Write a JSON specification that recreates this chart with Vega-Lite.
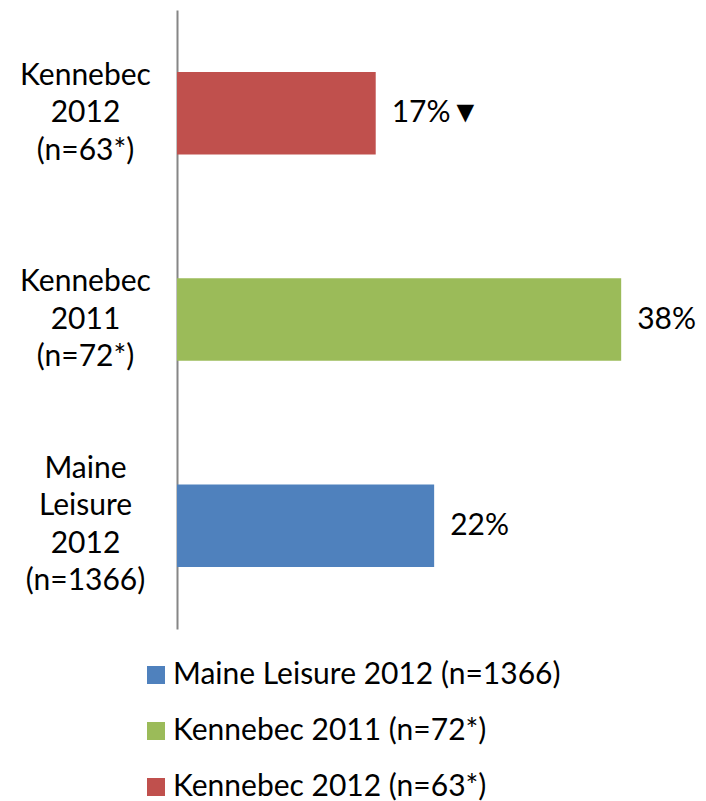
{
  "$schema": "https://vega.github.io/schema/vega-lite/v6.json",
  "width": 526,
  "height": 619,
  "autosize": {"type": "none"},
  "padding": {"left": 177, "top": 10, "right": 3, "bottom": 172},
  "background": "white",
  "config": {"view": {"stroke": null}, "font": "Lato"},
  "data": {"values": [
    {"cat": "Kennebec|2012|(n=63*)", "series": "Kennebec 2012 (n=63*)", "value": 0.17, "lbl": "17%▼"},
    {"cat": "Kennebec|2011|(n=72*)", "series": "Kennebec 2011 (n=72*)", "value": 0.38, "lbl": "38%"},
    {"cat": "Maine|Leisure|2012|(n=1366)", "series": "Maine Leisure 2012 (n=1366)", "value": 0.22, "lbl": "22%"}
  ]},
  "encoding": {
    "y": {"field": "cat", "type": "nominal", "sort": null,
      "scale": {"paddingInner": 0.6, "paddingOuter": 0.3},
      "axis": {"title": null, "ticks": false, "domainColor": "#868686", "domainWidth": 2,
        "labelExpr": "split(datum.label, '|')", "labelAlign": "center", "labelBaseline": "middle",
        "labelPadding": 92, "labelFontSize": 30, "labelColor": "black", "labelLineHeight": 37.5, "labelFont": "Lato",
        "labelOffset": {"condition": {"test": "indexof(datum.value, 'Maine') >= 0", "value": -57}, "value": -37.5}}},
    "x": {"field": "value", "type": "quantitative", "scale": {"domain": [0, 0.45]}, "axis": null}
  },
  "layer": [
    {"mark": {"type": "bar"},
     "encoding": {"color": {"field": "series", "type": "nominal",
       "scale": {"domain": ["Maine Leisure 2012 (n=1366)", "Kennebec 2011 (n=72*)", "Kennebec 2012 (n=63*)"],
                 "range": ["#4f81bd", "#9bbb59", "#c0504d"]},
       "legend": {"orient": "none", "legendX": -36, "legendY": 650, "padding": 0, "title": null, "symbolType": "square",
         "symbolSize": 324, "symbolStrokeWidth": 0, "labelFontSize": 30, "labelColor": "black", "labelOffset": 2,
         "rowPadding": 26, "labelLimit": 500, "labelFont": "Lato"}}}},
    {"mark": {"type": "text", "align": "left", "baseline": "middle", "dx": 16, "fontSize": 30, "color": "black", "font": "Lato"},
     "encoding": {"text": {"field": "lbl"}}}
  ]
}
